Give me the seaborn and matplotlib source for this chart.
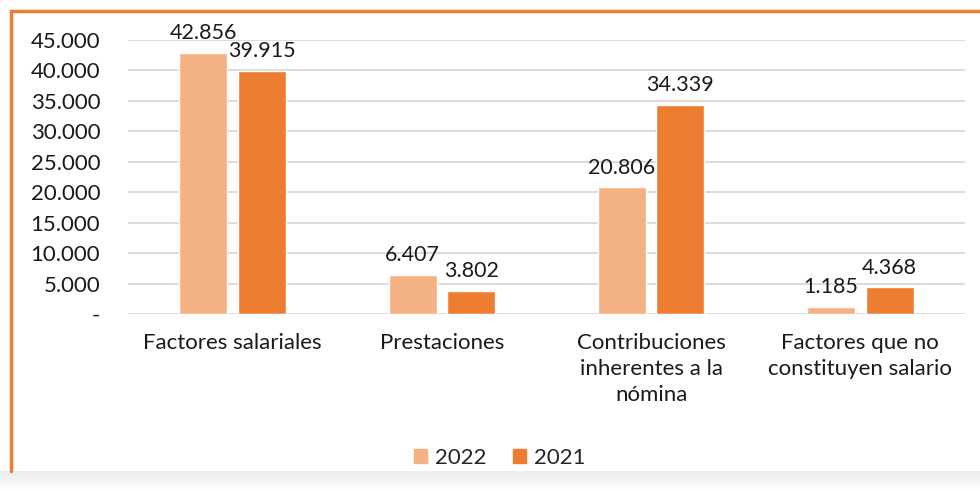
import numpy as np
import pandas as pd
import seaborn as sns
import matplotlib.pyplot as plt
import matplotlib.patches as mpatches

categories = ['Factores salariales', 'Prestaciones',
              'Contribuciones\ninherentes a la\nnómina',
              'Factores que no\nconstituyen salario']
years = ['2022', '2021']
values_2022 = [42856, 6407, 20806, 1185]
values_2021 = [39915, 3802, 34339, 4368]
yticks = [0, 5000, 10000, 15000, 20000, 25000, 30000, 35000, 40000, 45000]


def fmt(v):
    # thousands with a dot, zero as a dash
    if v == 0:
        return '-'
    return '{:,.0f}'.format(v).replace(',', '.')


df = pd.DataFrame({
    'categoria': categories * 2,
    'anio': [years[0]] * 4 + [years[1]] * 4,
    'valor': values_2022 + values_2021,
})

sns.set_style('white')
plt.rcParams['font.family'] = ['Lato', 'DejaVu Sans']

fig = plt.figure(figsize=(9.8, 4.91), dpi=100)
ax = fig.add_axes([0.1306, 0.3605, 0.854, 0.558])

ax = sns.barplot(ax=ax, data=df, x='categoria', y='valor', hue='anio',
                 hue_order=years, palette=['#F4B183', '#ED7D31'],
                 saturation=1, width=0.56, gap=0.18, legend=False)

for c in ax.containers:
    ax.bar_label(c, labels=[fmt(v) for v in c.datavalues], padding=7,
                 fontsize=15.5, color='#1a1a1a', clip_on=False)

ax.set_ylim(0, 45000)
ax.set_xlim(-0.5, 3.5)
ax.set_yticks(yticks)
ax.set_yticklabels([fmt(v) for v in yticks])
ax.yaxis.grid(True, color='#d9d9d9', linewidth=1.3)
ax.set_axisbelow(True)
for s in ax.spines.values():
    s.set_visible(False)
ax.tick_params(axis='y', length=0, pad=20, labelsize=16, labelcolor='#1a1a1a')
ax.tick_params(axis='x', length=0, pad=14, labelsize=16, labelcolor='#1a1a1a')
for t in ax.get_xticklabels():
    t.set_linespacing(1.35)
ax.set_xlabel('')
ax.set_ylabel('')

handles = [mpatches.Patch(color='#F4B183', label='2022'),
           mpatches.Patch(color='#ED7D31', label='2021')]
fig.legend(handles=handles, loc='center', bbox_to_anchor=(0.51, 0.068),
           ncol=2, frameon=False, fontsize=16, handlelength=0.6,
           handleheight=0.6, handletextpad=0.35, columnspacing=1.2)

# orange frame of the original chart box (top and left edges only visible)
fig.add_artist(plt.Line2D([0.0112, 1.0], [0.978, 0.978], color='#ED7D31',
                          linewidth=2.5, transform=fig.transFigure))
fig.add_artist(plt.Line2D([0.0112, 0.0112], [0.978, 0.04], color='#ED7D31',
                          linewidth=2.5, transform=fig.transFigure))
# faint grey shadow along the bottom edge
shade = np.linspace(1, 0, 20).reshape(-1, 1)
fig.figimage(np.repeat(np.dstack([1 - 0.07 * shade] * 3), 980, axis=1),
             xo=0, yo=0, zorder=-1)

fig.savefig('out.png', dpi=100)
